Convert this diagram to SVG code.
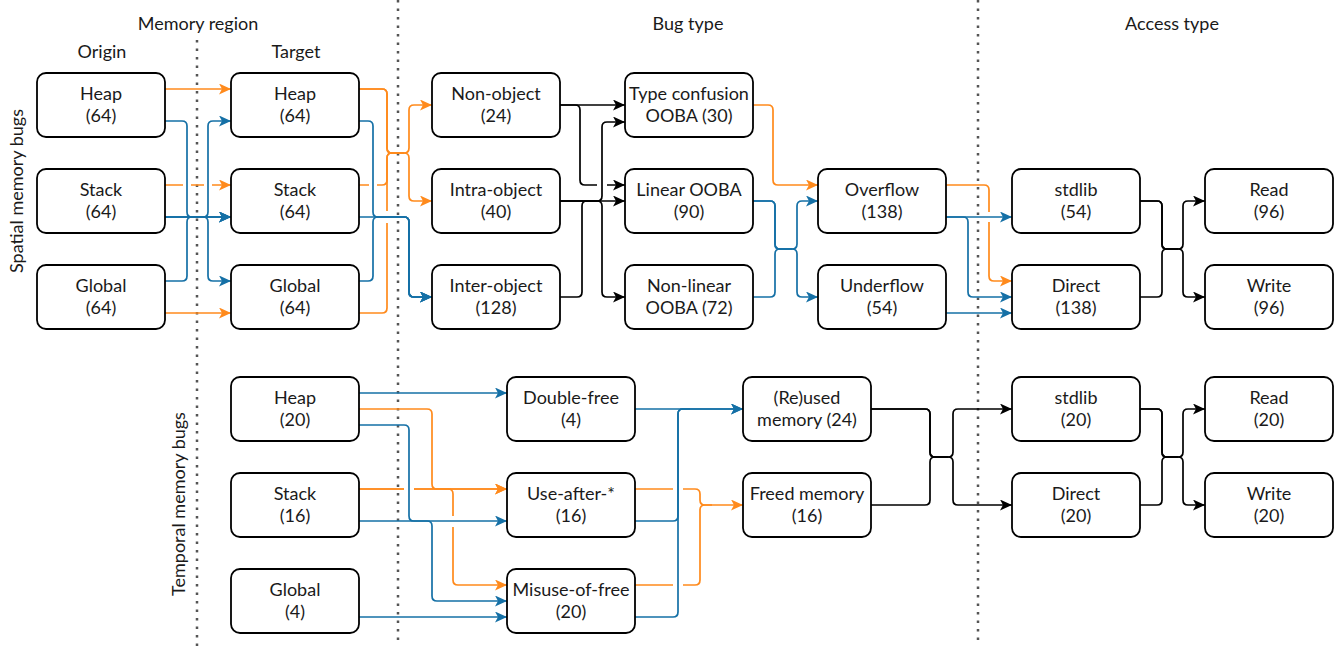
<svg xmlns="http://www.w3.org/2000/svg" width="1342" height="646" viewBox="0 0 1342 646">
<style>
.box{fill:#fff;stroke:#000;stroke-width:1.8}
.t{font-family:Lato,"Liberation Sans",sans-serif;font-size:18px;fill:#1a1a1a;text-anchor:middle}
.e{fill:none;stroke-width:1.7;stroke-linejoin:round}
.k{stroke:#000;marker-end:url(#ak)}
.o{stroke:#FF8A1C;marker-end:url(#ao)}
.b{stroke:#1570A6;marker-end:url(#ab)}
.nm{marker-end:none}
.dot{stroke:#555;stroke-width:2.5;stroke-dasharray:2.5 6;fill:none}
</style>
<defs>
<marker id="ak" markerUnits="userSpaceOnUse" markerWidth="12" markerHeight="11" refX="12" refY="5.5" orient="auto"><path d="M0,0 L12,5.5 L0,11 L3,5.5 Z" fill="#000"/></marker>
<marker id="ao" markerUnits="userSpaceOnUse" markerWidth="12" markerHeight="11" refX="12" refY="5.5" orient="auto"><path d="M0,0 L12,5.5 L0,11 L3,5.5 Z" fill="#FF8A1C"/></marker>
<marker id="ab" markerUnits="userSpaceOnUse" markerWidth="12" markerHeight="11" refX="12" refY="5.5" orient="auto"><path d="M0,0 L12,5.5 L0,11 L3,5.5 Z" fill="#1570A6"/></marker>
</defs>
<rect width="1342" height="646" fill="#fff"/>

<g id="separators">
<line class="dot" x1="197" y1="40" x2="197" y2="646"/>
<line class="dot" x1="398" y1="0" x2="398" y2="646"/>
<line class="dot" x1="978" y1="0" x2="978" y2="646"/>
</g>

<g id="headers">
<text class="t" x="198" y="30">Memory region</text>
<text class="t" x="102" y="58">Origin</text>
<text class="t" x="296" y="58">Target</text>
<text class="t" x="688" y="30">Bug type</text>
<text class="t" x="1172" y="30">Access type</text>
<text class="t" transform="translate(23,191) rotate(-90)">Spatial memory bugs</text>
<text class="t" transform="translate(185,504) rotate(-90)">Temporal memory bugs</text>
</g>

<g id="connectors">
<!-- origin -> target -->
<path class="e o" d="M165,89 H231"/>
<path class="e o" d="M165,185 H183 M191,185 H204 M212,185 H231"/>
<path class="e o" d="M165,313 H231"/>
<path class="e b" d="M165,121 H182 Q187,121 187,126 V212 Q187,217 192,217 H231"/>
<path class="e b" d="M165,281 H182 Q187,281 187,276 V222 Q187,217 192,217 H231"/>
<path class="e b" d="M165,217 H231"/>
<path class="e b" d="M165,217 H203 Q208,217 208,212 V126 Q208,121 213,121 H231"/>
<path class="e b" d="M165,217 H203 Q208,217 208,222 V276 Q208,281 213,281 H231"/>
<!-- target -> bug type (object) -->
<path class="e o" d="M359,89 H382 Q387,89 387,94 V148 Q387,153 392,153 H404 Q409,153 409,148 V110 Q409,105 414,105 H432"/>
<path class="e o" d="M359,89 H382 Q387,89 387,94 V148 Q387,153 392,153 H404 Q409,153 409,158 V196 Q409,201 414,201 H432"/>
<path class="e o nm" d="M359,185 H369 M377,185 H382 Q387,185 387,180 V158 Q387,153 392,153 H404"/>
<path class="e o nm" d="M359,313 H382 Q387,313 387,308 V223 M387,211 V158 Q387,153 392,153 H404"/>
<path class="e b" d="M359,121 H368 Q373,121 373,126 V212 Q373,217 378,217 H404 Q409,217 409,222 V292 Q409,297 414,297 H432"/>
<path class="e b" d="M359,281 H368 Q373,281 373,276 V222 Q373,217 378,217 H404 Q409,217 409,222 V292 Q409,297 414,297 H432"/>
<path class="e b" d="M359,217 H404 Q409,217 409,222 V292 Q409,297 414,297 H432"/>
<!-- object -> bug kind -->
<path class="e k" d="M559,105 H625"/>
<path class="e k" d="M559,105 H575 Q580,105 580,110 V180 Q580,185 585,185 H597 M607,185 H625"/>
<path class="e k" d="M559,201 H625"/>
<path class="e k" d="M559,201 H597 Q602,201 602,196 V127 Q602,122 607,122 H625"/>
<path class="e k" d="M559,201 H597 Q602,201 602,206 V292 Q602,297 607,297 H625"/>
<path class="e k nm" d="M559,297 H577 Q582,297 582,292 V206 Q582,201 587,201 H597"/>
<!-- bug kind -> overflow/underflow -->
<path class="e o" d="M753,105 H768 Q773,105 773,110 V180 Q773,185 778,185 H818"/>
<path class="e b" d="M753,201 H770 Q775,201 775,206 V244 Q775,249 780,249 H792 Q797,249 797,244 V206 Q797,201 802,201 H818"/>
<path class="e b" d="M753,201 H770 Q775,201 775,206 V244 Q775,249 780,249 H792 Q797,249 797,254 V292 Q797,297 802,297 H818"/>
<path class="e b nm" d="M753,297 H770 Q775,297 775,292 V254 Q775,249 780,249 H792"/>
<!-- overflow/underflow -> access -->
<path class="e o" d="M946,185 H984 Q989,185 989,190 V212 M989,222 V276 Q989,281 994,281 H1012"/>
<path class="e b" d="M946,217 H1012"/>
<path class="e b" d="M946,217 H963 Q968,217 968,222 V292 Q968,297 973,297 H1012"/>
<path class="e b" d="M946,313 H1012"/>
<!-- access -> read/write (spatial) -->
<path class="e k" d="M1140,201 H1157 Q1162,201 1162,206 V244 Q1162,249 1167,249 H1178 Q1183,249 1183,244 V206 Q1183,201 1188,201 H1205"/>
<path class="e k" d="M1140,201 H1157 Q1162,201 1162,206 V244 Q1162,249 1167,249 H1178 Q1183,249 1183,254 V292 Q1183,297 1188,297 H1205"/>
<path class="e k nm" d="M1140,297 H1157 Q1162,297 1162,292 V254 Q1162,249 1167,249 H1178"/>

<!-- temporal: region -> bug type -->
<path class="e b" d="M359,393 H507"/>
<path class="e o" d="M359,409 H427 Q432,409 432,414 V484 Q432,489 437,489 H507"/>
<path class="e o" d="M359,489 H404 M414,489 H507"/>
<path class="e o" d="M359,489 H404 M414,489 H448 Q453,489 453,494 V516 M453,527 V580 Q453,585 458,585 H507"/>
<path class="e b" d="M359,425 H404 Q409,425 409,430 V516 Q409,521 414,521 H427 Q432,521 432,526 V596 Q432,601 437,601 H507"/>
<path class="e b" d="M359,521 H507"/>
<path class="e b" d="M359,617 H507"/>
<!-- temporal: bug type -> memory -->
<path class="e b" d="M635,409 H743"/>
<path class="e b" d="M635,521 H673 Q678,521 678,516 V414 Q678,409 683,409 H743"/>
<path class="e b nm" d="M635,617 H673 Q678,617 678,612 V414 Q678,409 683,409 H690"/>
<path class="e o" d="M635,489 H673 M683,489 H695 Q700,489 700,494 V500 Q700,505 705,505 H743"/>
<path class="e o nm" d="M635,585 H673 M683,585 H695 Q700,585 700,580 V510 Q700,505 705,505 H712"/>
<!-- temporal: memory -> access -->
<path class="e k" d="M871,409 H925 Q930,409 930,414 V452 Q930,457 935,457 H948 Q953,457 953,452 V414 Q953,409 958,409 H1012"/>
<path class="e k" d="M871,409 H925 Q930,409 930,414 V452 Q930,457 935,457 H948 Q953,457 953,462 V500 Q953,505 958,505 H1012"/>
<path class="e k nm" d="M871,505 H925 Q930,505 930,500 V462 Q930,457 935,457 H948"/>
<!-- temporal: access -> read/write -->
<path class="e k" d="M1140,409 H1157 Q1162,409 1162,414 V452 Q1162,457 1167,457 H1178 Q1183,457 1183,452 V414 Q1183,409 1188,409 H1205"/>
<path class="e k" d="M1140,409 H1157 Q1162,409 1162,414 V452 Q1162,457 1167,457 H1178 Q1183,457 1183,462 V500 Q1183,505 1188,505 H1205"/>
<path class="e k nm" d="M1140,505 H1157 Q1162,505 1162,500 V462 Q1162,457 1167,457 H1178"/>
</g>

<!-- spatial nodes -->
<g id="s-origin-heap"><rect class="box" x="37" y="73" width="128" height="64" rx="9"/><text class="t" x="101" y="100">Heap</text><text class="t" x="101" y="122">(64)</text></g>
<g id="s-origin-stack"><rect class="box" x="37" y="169" width="128" height="64" rx="9"/><text class="t" x="101" y="196">Stack</text><text class="t" x="101" y="218">(64)</text></g>
<g id="s-origin-global"><rect class="box" x="37" y="265" width="128" height="64" rx="9"/><text class="t" x="101" y="292">Global</text><text class="t" x="101" y="314">(64)</text></g>
<g id="s-target-heap"><rect class="box" x="231" y="73" width="128" height="64" rx="9"/><text class="t" x="295" y="100">Heap</text><text class="t" x="295" y="122">(64)</text></g>
<g id="s-target-stack"><rect class="box" x="231" y="169" width="128" height="64" rx="9"/><text class="t" x="295" y="196">Stack</text><text class="t" x="295" y="218">(64)</text></g>
<g id="s-target-global"><rect class="box" x="231" y="265" width="128" height="64" rx="9"/><text class="t" x="295" y="292">Global</text><text class="t" x="295" y="314">(64)</text></g>
<g id="non-object"><rect class="box" x="432" y="73" width="128" height="64" rx="9"/><text class="t" x="496" y="100">Non-object</text><text class="t" x="496" y="122">(24)</text></g>
<g id="intra-object"><rect class="box" x="432" y="169" width="128" height="64" rx="9"/><text class="t" x="496" y="196">Intra-object</text><text class="t" x="496" y="218">(40)</text></g>
<g id="inter-object"><rect class="box" x="432" y="265" width="128" height="64" rx="9"/><text class="t" x="496" y="292">Inter-object</text><text class="t" x="496" y="314">(128)</text></g>
<g id="type-confusion"><rect class="box" x="625" y="73" width="128" height="64" rx="9"/><text class="t" x="689" y="100">Type confusion</text><text class="t" x="689" y="122">OOBA (30)</text></g>
<g id="linear-ooba"><rect class="box" x="625" y="169" width="128" height="64" rx="9"/><text class="t" x="689" y="196">Linear OOBA</text><text class="t" x="689" y="218">(90)</text></g>
<g id="nonlinear-ooba"><rect class="box" x="625" y="265" width="128" height="64" rx="9"/><text class="t" x="689" y="292">Non-linear</text><text class="t" x="689" y="314">OOBA (72)</text></g>
<g id="overflow"><rect class="box" x="818" y="169" width="128" height="64" rx="9"/><text class="t" x="882" y="196">Overflow</text><text class="t" x="882" y="218">(138)</text></g>
<g id="underflow"><rect class="box" x="818" y="265" width="128" height="64" rx="9"/><text class="t" x="882" y="292">Underflow</text><text class="t" x="882" y="314">(54)</text></g>
<g id="s-stdlib"><rect class="box" x="1012" y="169" width="128" height="64" rx="9"/><text class="t" x="1076" y="196">stdlib</text><text class="t" x="1076" y="218">(54)</text></g>
<g id="s-direct"><rect class="box" x="1012" y="265" width="128" height="64" rx="9"/><text class="t" x="1076" y="292">Direct</text><text class="t" x="1076" y="314">(138)</text></g>
<g id="s-read"><rect class="box" x="1205" y="169" width="128" height="64" rx="9"/><text class="t" x="1269" y="196">Read</text><text class="t" x="1269" y="218">(96)</text></g>
<g id="s-write"><rect class="box" x="1205" y="265" width="128" height="64" rx="9"/><text class="t" x="1269" y="292">Write</text><text class="t" x="1269" y="314">(96)</text></g>

<!-- temporal nodes -->
<g id="t-heap"><rect class="box" x="231" y="377" width="128" height="64" rx="9"/><text class="t" x="295" y="404">Heap</text><text class="t" x="295" y="426">(20)</text></g>
<g id="t-stack"><rect class="box" x="231" y="473" width="128" height="64" rx="9"/><text class="t" x="295" y="500">Stack</text><text class="t" x="295" y="522">(16)</text></g>
<g id="t-global"><rect class="box" x="231" y="569" width="128" height="64" rx="9"/><text class="t" x="295" y="596">Global</text><text class="t" x="295" y="618">(4)</text></g>
<g id="double-free"><rect class="box" x="507" y="377" width="128" height="64" rx="9"/><text class="t" x="571" y="404">Double-free</text><text class="t" x="571" y="426">(4)</text></g>
<g id="use-after"><rect class="box" x="507" y="473" width="128" height="64" rx="9"/><text class="t" x="571" y="500">Use-after-*</text><text class="t" x="571" y="522">(16)</text></g>
<g id="misuse-of-free"><rect class="box" x="507" y="569" width="128" height="64" rx="9"/><text class="t" x="571" y="596">Misuse-of-free</text><text class="t" x="571" y="618">(20)</text></g>
<g id="reused-memory"><rect class="box" x="743" y="377" width="128" height="64" rx="9"/><text class="t" x="807" y="404">(Re)used</text><text class="t" x="807" y="426">memory (24)</text></g>
<g id="freed-memory"><rect class="box" x="743" y="473" width="128" height="64" rx="9"/><text class="t" x="807" y="500">Freed memory</text><text class="t" x="807" y="522">(16)</text></g>
<g id="t-stdlib"><rect class="box" x="1012" y="377" width="128" height="64" rx="9"/><text class="t" x="1076" y="404">stdlib</text><text class="t" x="1076" y="426">(20)</text></g>
<g id="t-direct"><rect class="box" x="1012" y="473" width="128" height="64" rx="9"/><text class="t" x="1076" y="500">Direct</text><text class="t" x="1076" y="522">(20)</text></g>
<g id="t-read"><rect class="box" x="1205" y="377" width="128" height="64" rx="9"/><text class="t" x="1269" y="404">Read</text><text class="t" x="1269" y="426">(20)</text></g>
<g id="t-write"><rect class="box" x="1205" y="473" width="128" height="64" rx="9"/><text class="t" x="1269" y="500">Write</text><text class="t" x="1269" y="522">(20)</text></g>
</svg>
